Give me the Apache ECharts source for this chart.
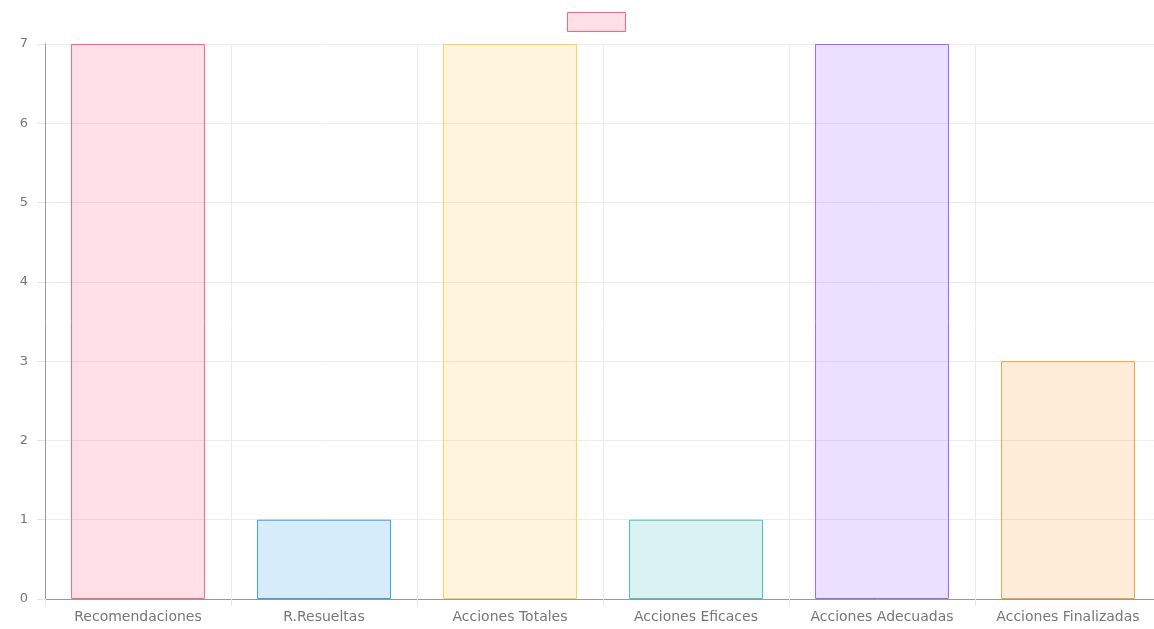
<!DOCTYPE html>
<html>
<head>
<meta charset="utf-8">
<script src="https://cdn.jsdelivr.net/npm/echarts@6/dist/echarts.min.js"></script>
<style>html,body{margin:0;padding:0;background:#fff;overflow:hidden}#c{width:1154px;height:629px}</style>
</head>
<body>
<div id="c"></div>
<script>
const categories = ['Recomendaciones','R.Resueltas','Acciones Totales','Acciones Eficaces','Acciones Adecuadas','Acciones Finalizadas'];
const values = [7, 1, 7, 1, 7, 3];
const fillColors = ['rgba(255,99,132,0.2)','rgba(54,162,235,0.2)','rgba(255,206,86,0.2)','rgba(75,192,192,0.2)','rgba(153,102,255,0.2)','rgba(255,159,64,0.2)'];
const borderColors = ['rgba(255,99,132,1)','rgba(54,162,235,1)','rgba(255,206,86,1)','rgba(75,192,192,1)','rgba(153,102,255,1)','rgba(255,159,64,1)'];
const seriesName = 'dataset';

const chart = echarts.init(document.getElementById('c'));
chart.setOption({
  animation: false,
  legend: {
    data: [seriesName],
    left: 562, top: 7,
    itemWidth: 58, itemHeight: 19,
    icon: 'rect',
    formatter: () => '',
    itemStyle: {color: fillColors[0], borderColor: borderColors[0], borderWidth: 1}
  },
  grid: {left: 45, width: 1116, top: 44, bottom: 30, outerBoundsMode: 'none'},
  xAxis: {
    type: 'category',
    data: categories,
    boundaryGap: true,
    axisLine: {lineStyle: {color: '#999'}},
    axisTick: {show: true, interval: 0, length: 7, lineStyle: {color: '#e6e6e6'}},
    splitLine: {show: true, interval: 0, lineStyle: {color: '#ececec'}},
    axisLabel: {interval: 0, hideOverlap: false, color: '#777', fontSize: 14, fontFamily: 'DejaVu Sans', margin: 11}
  },
  yAxis: {
    type: 'value', min: 0, max: 7, interval: 1,
    axisLine: {show: true, lineStyle: {color: '#999'}},
    axisTick: {show: true, length: 8, lineStyle: {color: '#e6e6e6'}},
    splitLine: {show: true, lineStyle: {color: '#ececec'}},
    axisLabel: {color: '#777', fontSize: 13, fontFamily: 'DejaVu Sans', margin: 17}
  },
  series: [{
    name: seriesName,
    type: 'bar',
    barWidth: '72%',
    itemStyle: {color: fillColors[0], borderColor: borderColors[0], borderWidth: 1},
    data: values.map((v, i) => ({value: v, itemStyle: {color: fillColors[i], borderColor: borderColors[i], borderWidth: 1}}))
  }]
});
</script>
</body>
</html>
